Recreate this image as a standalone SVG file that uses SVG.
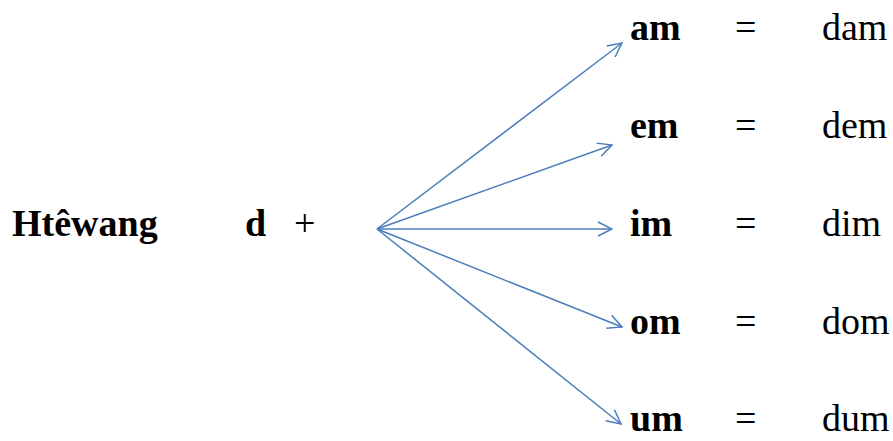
<svg xmlns="http://www.w3.org/2000/svg" width="893" height="441" viewBox="0 0 893 441">
<defs>
<marker id="ah" viewBox="0 0 16 16" refX="15" refY="8" markerWidth="16" markerHeight="16" markerUnits="userSpaceOnUse" orient="auto">
<path d="M1,1 L15,8 L1,15" fill="none" stroke="#4a7ebb" stroke-width="1.5"/>
</marker>
</defs>
<style>
text{font-family:"Liberation Serif","Times New Roman",serif;font-size:38px;fill:#000}
.b{font-weight:bold}
.c line{stroke:#4a7ebb;stroke-width:1.5;marker-end:url(#ah)}
</style>
<rect width="893" height="441" fill="#fff"/>
<g id="left">
<text class="b" x="12" y="236">Htêwang</text>
<text class="b" x="245" y="236">d</text>
<text x="294" y="236">+</text>
</g>
<g id="row-am"><text class="b" x="630" y="40">am</text><text x="735" y="40">=</text><text x="822" y="40">dam</text></g>
<g id="row-em"><text class="b" x="630" y="138">em</text><text x="735" y="138">=</text><text x="822" y="138">dem</text></g>
<g id="row-im"><text class="b" x="630" y="236">im</text><text x="735" y="236">=</text><text x="822" y="236">dim</text></g>
<g id="row-om"><text class="b" x="630" y="334">om</text><text x="735" y="334">=</text><text x="822" y="334">dom</text></g>
<g id="row-um"><text class="b" x="630" y="431">um</text><text x="735" y="431">=</text><text x="822" y="431">dum</text></g>
<g class="c" id="connectors">
<line x1="377" y1="229" x2="622" y2="43"/>
<line x1="377" y1="229" x2="612" y2="145"/>
<line x1="377" y1="229" x2="612" y2="229"/>
<line x1="377" y1="229" x2="622" y2="327"/>
<line x1="377" y1="229" x2="621" y2="424"/>
</g>
</svg>
